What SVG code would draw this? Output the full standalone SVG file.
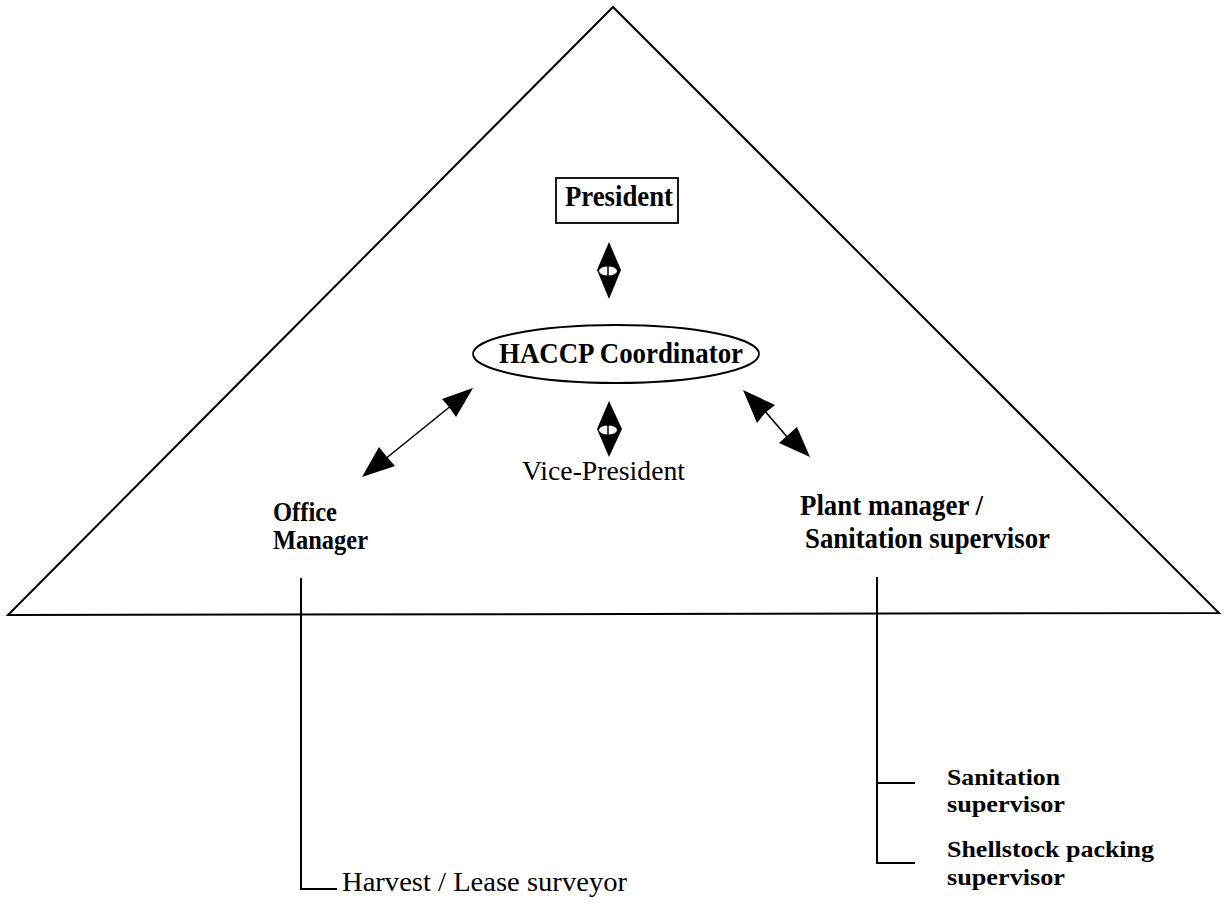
<svg xmlns="http://www.w3.org/2000/svg" width="1225" height="907" viewBox="0 0 1225 907">
<style>
.b{font-family:"Liberation Serif","Times New Roman",serif;font-weight:bold;fill:#000}
.r{font-family:"Liberation Serif","Times New Roman",serif;fill:#000}
.ln{fill:none;stroke:#000;stroke-width:2}
.thin{fill:none;stroke:#000;stroke-width:1.6}
.hd{fill:#000;stroke:none}
</style>
<rect width="1225" height="907" fill="#fff"/>
<g id="triangle">
<polygon points="613,7 8,615 1219,613" fill="none" stroke="#000" stroke-width="2" stroke-linejoin="miter"/>
</g>
<g id="president">
<rect x="556" y="178" width="122" height="45" fill="none" stroke="#000" stroke-width="1.8"/>
<text class="b" x="565" y="206" font-size="29" textLength="108" lengthAdjust="spacingAndGlyphs">President</text>
</g>
<g id="haccp">
<ellipse cx="616" cy="354" rx="143" ry="29" fill="none" stroke="#000" stroke-width="1.8"/>
<text class="b" x="499" y="363" font-size="29" textLength="244" lengthAdjust="spacingAndGlyphs">HACCP Coordinator</text>
</g>
<g id="vice-president">
<text class="r" x="522" y="480" font-size="27" textLength="163" lengthAdjust="spacingAndGlyphs">Vice-President</text>
</g>
<g id="office-manager">
<text class="b" x="273" y="521" font-size="27" textLength="64" lengthAdjust="spacingAndGlyphs">Office</text>
<text class="b" x="273" y="549" font-size="27" textLength="95" lengthAdjust="spacingAndGlyphs">Manager</text>
</g>
<g id="plant-manager">
<text class="b" x="800" y="515" font-size="29" textLength="183" lengthAdjust="spacingAndGlyphs">Plant manager /</text>
<text class="b" x="805" y="548" font-size="29" textLength="245" lengthAdjust="spacingAndGlyphs">Sanitation supervisor</text>
</g>
<g id="harvest">
<text class="r" x="342" y="891" font-size="28" textLength="285" lengthAdjust="spacingAndGlyphs">Harvest / Lease surveyor</text>
</g>
<g id="sanitation-supervisor">
<text class="b" x="947" y="785" font-size="24" textLength="113" lengthAdjust="spacingAndGlyphs">Sanitation</text>
<text class="b" x="947" y="812" font-size="24" textLength="118" lengthAdjust="spacingAndGlyphs">supervisor</text>
</g>
<g id="shellstock">
<text class="b" x="947" y="857" font-size="24" textLength="207" lengthAdjust="spacingAndGlyphs">Shellstock packing</text>
<text class="b" x="947" y="885" font-size="24" textLength="118" lengthAdjust="spacingAndGlyphs">supervisor</text>
</g>
<g id="connectors">
<polygon class="hd" points="609,242 621,270 609,299 597,270"/>
<ellipse cx="608" cy="271" rx="9" ry="4.5" fill="#fff"/>
<line x1="608" y1="266" x2="608" y2="276" stroke="#000" stroke-width="1.5"/>
<polygon class="hd" points="609,401 622,429 609,457 597,429"/>
<ellipse cx="608" cy="430" rx="9" ry="4.5" fill="#fff"/>
<line x1="608" y1="425" x2="608" y2="435" stroke="#000" stroke-width="1.5"/>
<line class="thin" x1="452" y1="405" x2="384" y2="460"/>
<polygon class="hd" points="473,388 456,417 449,407 442,399"/>
<polygon class="hd" points="362,477 379,447 387,457 395,466"/>
<line class="thin" x1="764" y1="410" x2="788" y2="438"/>
<polygon class="hd" points="743,390 775,405 765,413 757,423"/>
<polygon class="hd" points="810,457 779,443 788,435 797,427"/>
<polyline class="ln" points="301,578 301,889 337,889"/>
<polyline class="ln" points="877,577 877,863 915,863"/>
<line class="ln" x1="877" y1="783" x2="915" y2="783"/>
</g>
</svg>
